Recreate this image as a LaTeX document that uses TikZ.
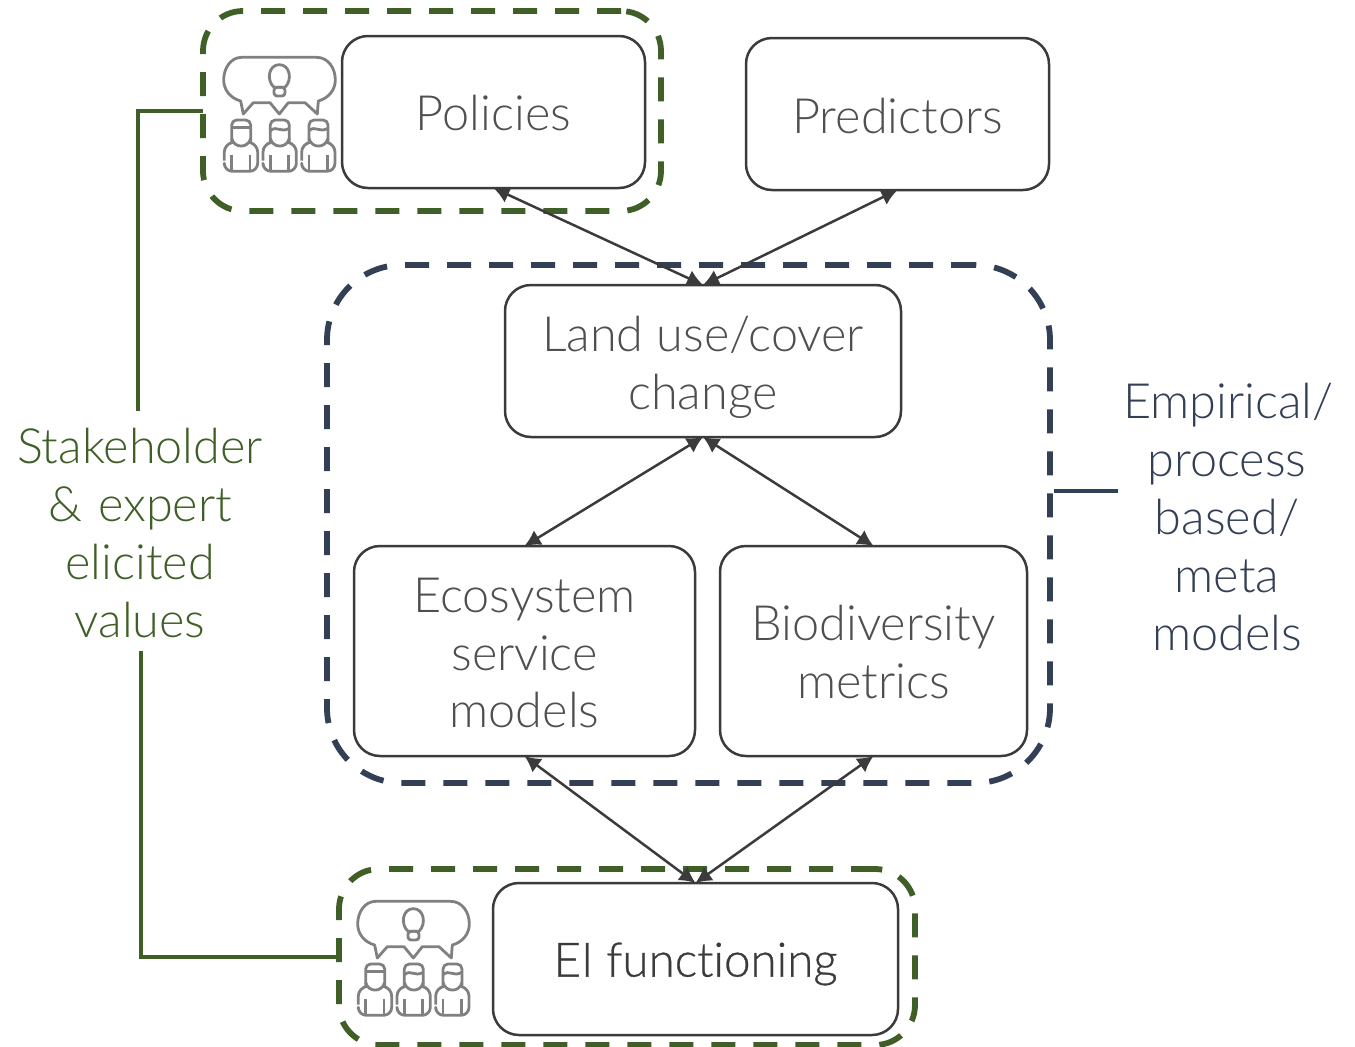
\documentclass[tikz,border=0pt]{standalone}
\usepackage{fontspec}
\setmainfont{Lato}[UprightFont={* Light}]
\newfontfamily\plainlato{Lato}[UprightFont={* Light},Ligatures=NoCommon,FakeBold=0.6]
\usetikzlibrary{arrows.meta,calc,positioning}
\definecolor{elicitgreen}{HTML}{3F5F26}
\definecolor{modelblue}{HTML}{333F55}
\definecolor{boxgrey}{HTML}{3B3B3B}
\definecolor{icongrey}{HTML}{808080}
\newcommand{\lowerby}[2]{\raisebox{-#1}[\height][\depth]{#2}}
\tikzset{
  x=1pt, y=1pt,
  stagebox/.style={draw=boxgrey, line width=2.5pt, rounded corners=26pt, align=center, text=boxgrey!90!white, outer sep=0pt, inner sep=0pt, font=\fontsize{48.6}{58}\selectfont},
  dashgreen/.style={draw=elicitgreen, line width=5.8pt, dash pattern=on 24pt off 18pt, rounded corners=40pt, outer sep=0pt, inner sep=0pt},
  dashblue/.style={draw=modelblue, line width=5.8pt, dash pattern=on 24pt off 18pt, rounded corners=75pt, outer sep=0pt, inner sep=0pt},
  sidetext/.style={align=center, font=\fontsize{48.6}{58}\selectfont, inner xsep=5pt, inner ysep=15pt, outer sep=0pt},
  twoway/.style={{Latex[length=16pt,width=17pt]}-{Latex[length=16pt,width=17pt]}, draw=boxgrey, line width=2.5pt},
  person/.pic={
    \draw[rounded corners=5pt] (125,428) -- (125,360) -- (182,360) -- (182,428);
    \draw (125,415) .. controls (132,446) and (175,446) .. (182,415);
    \draw[rounded corners=8pt] (103,482) -- (103,432) -- (125,428) (182,428) -- (203,432) -- (203,514) -- (103,514) -- (103,496);
    \draw (125,465) -- (125,514) (180,465) -- (180,514);
  },
  people/.pic={
    \begin{scope}[x=0.3333pt, y=-0.3333pt, line width=2.8pt, draw=icongrey, line join=round]
      \draw[icongrey] (155,172) -- (380,172) .. controls (415,172) and (436,205) .. (436,240) .. controls (436,270) and (415,295) .. (385,303) -- (382,342) -- (345,308) -- (295,308) -- (268,342) -- (240,308) -- (190,308) -- (160,342) -- (152,303) .. controls (122,295) and (101,270) .. (101,240) .. controls (101,205) and (122,172) .. (155,172) -- cycle;
      \draw[icongrey] (252,262) .. controls (228,240) and (236,194) .. (268,194) .. controls (300,194) and (308,240) .. (285,262) -- cycle;
      \draw[icongrey, rounded corners=3pt] (252,262) rectangle (285,288);
      \path[icongrey] (0,0) pic {person} (116,0) pic {person} (232,0) pic {person};
      \draw[icongrey] (125,383) -- (182,383);
      \draw[icongrey] (241,392) .. controls (262,375) and (270,400) .. (298,385);
      \draw[icongrey] (357,392) .. controls (378,375) and (386,400) .. (414,385);
    \end{scope}
  }
}
\begin{document}
\begin{tikzpicture}
  \useasboundingbox (0,0) rectangle (1355,-1047);

  \node[dashgreen, minimum width=458pt, minimum height=200pt] (stakegreen) at (432,-111) {};
  \node[dashgreen, minimum width=576pt, minimum height=176pt] (expertgreen) at (627,-957) {};
  \node[dashblue, minimum width=723pt, minimum height=518pt] (modelzone) at (688.5,-524) {};

  \node[stagebox, minimum width=303pt, minimum height=152pt] (policies) at (493.5,-112) {\lowerby{1pt}{Policies}};
  \node[stagebox, minimum width=303pt, minimum height=152pt, right=101pt of policies, yshift=-2pt] (predictors) {\lowerby{2pt}{Predictors}};
  \node[stagebox, minimum width=396pt, minimum height=152pt] (landuse) at (703,-361) {\lowerby{6pt}{Land use/cover}\\\lowerby{6pt}{change}};
  \node[stagebox, minimum width=341pt, minimum height=210pt] (ecosystem) at (524.5,-651) {\lowerby{2pt}{Ecosystem}\\\lowerby{2pt}{service}\\\lowerby{1.5pt}{models}};
  \node[stagebox, minimum width=307pt, minimum height=210pt, right=25pt of ecosystem] (biodiversity) {\lowerby{1pt}{Biodiversity}\\\lowerby{1pt}{metrics}};
  \node[stagebox, minimum width=405pt, minimum height=152pt, font=\plainlato\fontsize{47.5}{58}\selectfont, text=boxgrey] (functioning) at (695.5,-959) {\lowerby{5pt}{EI functioning}};

  \draw[twoway] (policies.south) -- (landuse.north);
  \draw[twoway] (predictors.south) -- (landuse.north);
  \draw[twoway] (landuse.south) -- (ecosystem.north);
  \draw[twoway] (landuse.south) -- (biodiversity.north);
  \draw[twoway] (ecosystem.south) -- (functioning.north);
  \draw[twoway] (biodiversity.south) -- (functioning.north);

  \node[sidetext, text=elicitgreen, text width=260pt] (stakeholder) at (140,-533) {Stakeholder\\\& expert\\elicited\\values};
  \node[sidetext, text=modelblue, text width=208pt] (empirical) at (1227,-517) {Empirical/\\process\\based/\\meta\\models};

  \draw[elicitgreen, line width=3.5pt] (stakegreen.west) -| ([xshift=-2pt,yshift=2pt]stakeholder.north);
  \draw[elicitgreen, line width=3.5pt] (expertgreen.west) -| ([xshift=1pt,yshift=2pt]stakeholder.south);
  \coordinate (zonetap) at ([xshift=4pt,yshift=33pt]modelzone.east);
  \draw[modelblue, line width=3.5pt] (zonetap) -- (zonetap -| empirical.west);

  \pic at (190,-0) {people};
  \pic at (324,-844) {people};
\end{tikzpicture}
\end{document}
